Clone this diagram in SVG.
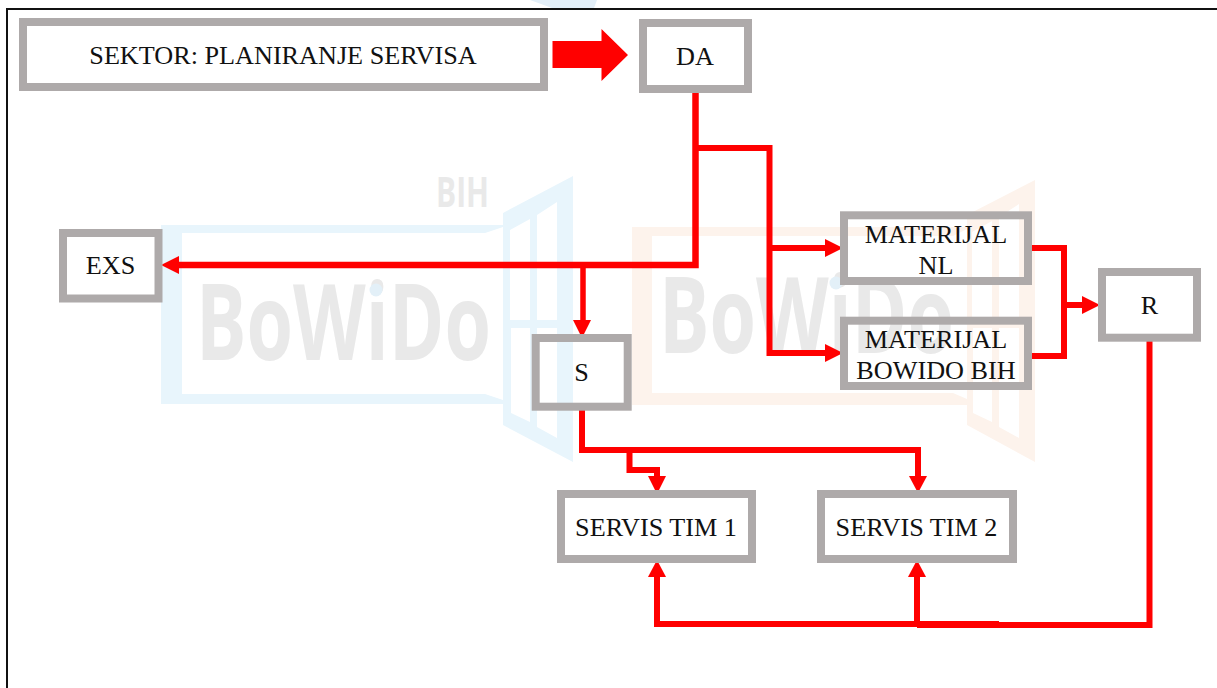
<svg xmlns="http://www.w3.org/2000/svg" width="1217" height="688" viewBox="0 0 1217 688">
<style>
.box{fill:none;stroke:#aeaaaa;stroke-width:8}
.t{font-family:"Liberation Serif","Times New Roman",serif;font-size:26.2px;fill:#111;text-anchor:middle}
.c{fill:none;stroke:#f00;stroke-width:6}
.h{fill:#f00}
.wt{font-family:"Open Sans","Liberation Sans",Arial,sans-serif;font-weight:700;fill:#e9e9e9}
</style>
<rect width="1217" height="688" fill="#fff"/>
<g id="watermark">
<polygon points="530,0 597,0 594,8 552,8" fill="#e3eff8"/>
<path fill="#e8f5fc" fill-rule="evenodd" d="M161 225H503V213L573 176V462L503 425V404H161ZM182 233V394H485L503 400V227L485 233ZM510 230V320H530V219ZM537 215V320H557V202ZM511 328V413L530 422V328ZM537 328V427L557 438V328Z"/>
<path fill="#fdf3ec" fill-rule="evenodd" d="M632 227H967V215L1035 180V462L967 425V405H632ZM652 236V393H953L967 399V229L953 236ZM972 232V320H992V221ZM999 217V320H1019V204ZM973 328V413L992 422V328ZM999 328V427L1019 438V328Z"/>
<text class="wt" x="196" y="360" font-size="105" textLength="295" lengthAdjust="spacingAndGlyphs">BoWiDo</text>
<text class="wt" x="659" y="353" font-size="105" textLength="295" lengthAdjust="spacingAndGlyphs">BoWiDo</text>
<text class="wt" x="436" y="207" font-size="42" textLength="53" lengthAdjust="spacingAndGlyphs">BIH</text>
<circle cx="376" cy="290" r="6.500" fill="#e3f0f8"/>
<circle cx="836" cy="283" r="6.500" fill="#e3f0f8"/>
</g>
<rect id="frame" x="7" y="9" width="1216" height="690" fill="none" stroke="#111" stroke-width="2"/>
<g id="connectors">
<path class="c" d="M695.500 90V265H175" style="stroke-width:6.500"/>
<path class="c" d="M696 148H769.500V353H828"/>
<path class="c" d="M769.500 248H828"/>
<path class="c" d="M583 265V322" style="stroke-width:5.500"/>
<path class="c" d="M582 406V450H918V478"/>
<path class="c" d="M629.500 450V470H657V478"/>
<path class="c" d="M1028 248H1064V356H1028"/>
<path class="c" d="M1064 305H1085"/>
<path class="c" d="M1149.500 338V625H917"/>
<path class="c" d="M999 624H657V575"/>
<path class="c" d="M917 625V575"/>
<g id="arrowheads">
<polygon class="h" points="161,265 179,256 179,274"/>
<polygon class="h" points="582,338 573,320 591,320"/>
<polygon class="h" points="843,248 825,239 825,257"/>
<polygon class="h" points="843,353 825,344 825,362"/>
<polygon class="h" points="1100,305 1082,296 1082,314"/>
<polygon class="h" points="657,494 648,476 666,476"/>
<polygon class="h" points="918,493 909,476 927,476"/>
<polygon class="h" points="657,560 648,577 666,577"/>
<polygon class="h" points="917,560 908,577 926,577"/>
<polygon class="h" points="552.500,41 601.500,41 601.500,29 628,55 601.500,81 601.500,68 552.500,68"/>
</g>
</g>
<g id="n-sektor"><rect class="box" x="23" y="22" width="521" height="65"/><text class="t" x="283" y="64">SEKTOR: PLANIRANJE SERVISA</text></g>
<g id="n-da"><rect class="box" x="643" y="23" width="105" height="66"/><text class="t" x="695" y="65">DA</text></g>
<g id="n-exs"><rect class="box" x="63" y="233" width="95.500" height="65.500"/><text class="t" x="110.500" y="274">EXS</text></g>
<g id="n-s"><rect class="box" x="535.700" y="338" width="92" height="68.700"/><text class="t" x="581.500" y="380.500">S</text></g>
<g id="n-nl"><rect class="box" x="844" y="215.300" width="184" height="65.700"/><text class="t" x="936" y="242.700">MATERIJAL</text><text class="t" x="936" y="274">NL</text></g>
<g id="n-bih"><rect class="box" x="844" y="320.700" width="184" height="65.300"/><text class="t" x="936" y="347.700">MATERIJAL</text><text class="t" x="936" y="379">BOWIDO BIH</text></g>
<g id="n-r"><rect class="box" x="1102" y="272" width="95" height="65.700"/><text class="t" x="1149.500" y="314">R</text></g>
<g id="n-st1"><rect class="box" x="561" y="494" width="191" height="65"/><text class="t" x="656" y="536">SERVIS TIM 1</text></g>
<g id="n-st2"><rect class="box" x="821" y="494" width="192" height="65"/><text class="t" x="916.500" y="536">SERVIS TIM 2</text></g>
</svg>
